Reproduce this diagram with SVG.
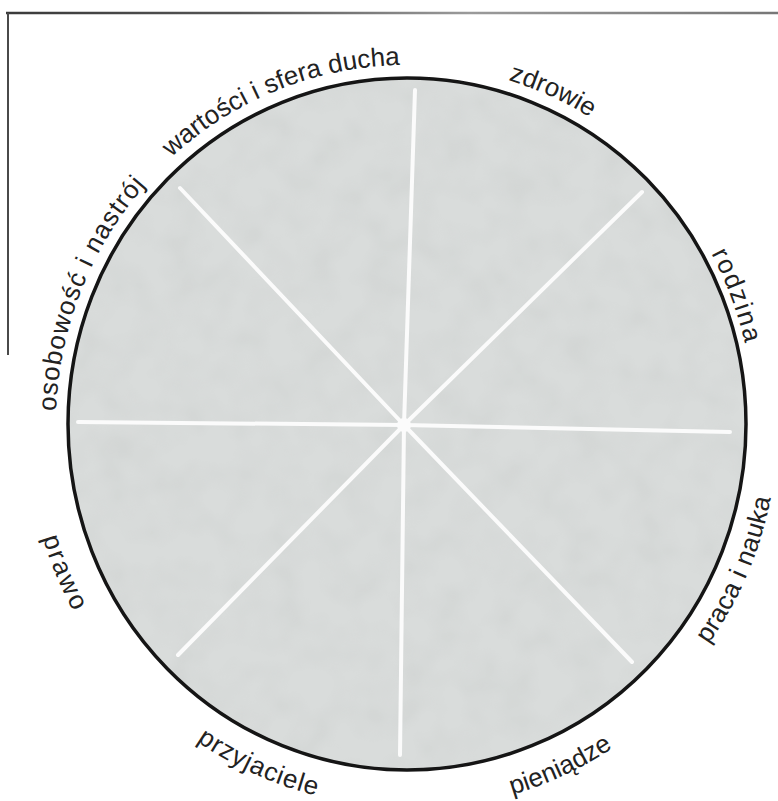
<svg xmlns="http://www.w3.org/2000/svg" width="778" height="801" viewBox="0 0 778 801">
  <defs>
    <style>
      .lbl { font-family: "Liberation Sans", Arial, Helvetica, sans-serif; font-size: 26px; fill: #222; }
      .spoke { stroke: #fbfbfb; stroke-width: 4; stroke-linecap: round; }
    </style>
    <linearGradient id="topLine" gradientUnits="userSpaceOnUse" x1="6" y1="13" x2="778" y2="13">
      <stop offset="0" stop-color="#3a3a3a"/>
      <stop offset="0.3" stop-color="#555"/>
      <stop offset="0.6" stop-color="#9a9a9a"/>
      <stop offset="1" stop-color="#777"/>
    </linearGradient>
    <filter id="mottle" x="0" y="0" width="100%" height="100%">
      <feTurbulence type="fractalNoise" baseFrequency="0.03" numOctaves="2" seed="7" result="n"/>
      <feColorMatrix in="n" type="matrix" values="0 0 0 0 0.55  0 0 0 0 0.57  0 0 0 0 0.56  1.1 0 0 0 -0.42" result="c"/>
      <feComposite in="c" in2="SourceGraphic" operator="in"/>
    </filter>
    <path id="p-wartosci" d="M113.5,225.9 A352,359 0 0 1 489.2,74.9"/>
    <path id="p-zdrowie" d="M462.1,69.4 A352,359 0 0 1 628.5,145"/>
    <path id="p-rodzina" d="M687.7,215.9 A347,354 0 0 1 752.1,387"/>
    <path id="p-osobowosc" d="M59.4,473.8 A351,358 0 0 1 190.9,141.9"/>
    <path id="p-praca" d="M676.1,684.2 A371,378 0 0 0 777.3,447.1"/>
    <path id="p-pieniadze" d="M449.9,807.5 A379,386 0 0 0 663,708.6"/>
    <path id="p-przyjaciele" d="M155.4,708.6 A376,383 0 0 0 367.7,804.9"/>
    <path id="p-prawo" d="M27.4,457.8 A381,388 0 0 0 119.5,678.6"/>
  </defs>

  <rect width="778" height="801" fill="#ffffff"/>

  <g id="frame" fill="none">
    <line x1="6" y1="13" x2="778" y2="13" stroke="url(#topLine)" stroke-width="2.5"/>
    <line x1="8" y1="13" x2="8" y2="355" stroke="#4a4a4a" stroke-width="2"/>
  </g>

  <g id="wheel">
    <ellipse cx="407" cy="424" rx="339" ry="346" fill="#d9dcdb"/>
    <ellipse cx="407" cy="424" rx="339" ry="346" fill="#000" filter="url(#mottle)" opacity="0.5"/>
  </g>

  <g id="connectors">
    <line class="spoke" x1="404" y1="425" x2="415" y2="90"/>
    <line class="spoke" x1="404" y1="425" x2="642" y2="192"/>
    <line class="spoke" x1="404" y1="425" x2="730" y2="432"/>
    <line class="spoke" x1="404" y1="425" x2="632" y2="662"/>
    <line class="spoke" x1="404" y1="425" x2="400" y2="755"/>
    <line class="spoke" x1="404" y1="425" x2="178" y2="655"/>
    <line class="spoke" x1="404" y1="425" x2="78" y2="422"/>
    <line class="spoke" x1="404" y1="425" x2="180" y2="188"/>
    <circle cx="404" cy="425" r="7" fill="#fbfbfb"/>
  </g>

  <g id="outline">
    <ellipse cx="407" cy="424" rx="339" ry="346" fill="none" stroke="#151515" stroke-width="3.5"/>
  </g>

  <g id="label-wartosci"><text class="lbl"><textPath href="#p-wartosci" startOffset="50%" text-anchor="middle" textLength="252" lengthAdjust="spacing">wartości i sfera ducha</textPath></text></g>
  <g id="label-zdrowie"><text class="lbl"><textPath href="#p-zdrowie" startOffset="50%" text-anchor="middle" textLength="90" lengthAdjust="spacing">zdrowie</textPath></text></g>
  <g id="label-rodzina"><text class="lbl"><textPath href="#p-rodzina" startOffset="50%" text-anchor="middle" textLength="96" lengthAdjust="spacing">rodzina</textPath></text></g>
  <g id="label-praca"><text class="lbl"><textPath href="#p-praca" startOffset="50%" text-anchor="middle" textLength="160" lengthAdjust="spacing">praca i nauka</textPath></text></g>
  <g id="label-pieniadze"><text class="lbl"><textPath href="#p-pieniadze" startOffset="50%" text-anchor="middle">pieniądze</textPath></text></g>
  <g id="label-przyjaciele"><text class="lbl"><textPath href="#p-przyjaciele" startOffset="50%" text-anchor="middle" textLength="132" lengthAdjust="spacing">przyjaciele</textPath></text></g>
  <g id="label-prawo"><text class="lbl"><textPath href="#p-prawo" startOffset="50%" text-anchor="middle" textLength="80" lengthAdjust="spacing">prawo</textPath></text></g>
  <g id="label-osobowosc"><text class="lbl"><textPath href="#p-osobowosc" startOffset="50%" text-anchor="middle" textLength="248" lengthAdjust="spacing">osobowość i nastrój</textPath></text></g>
</svg>
